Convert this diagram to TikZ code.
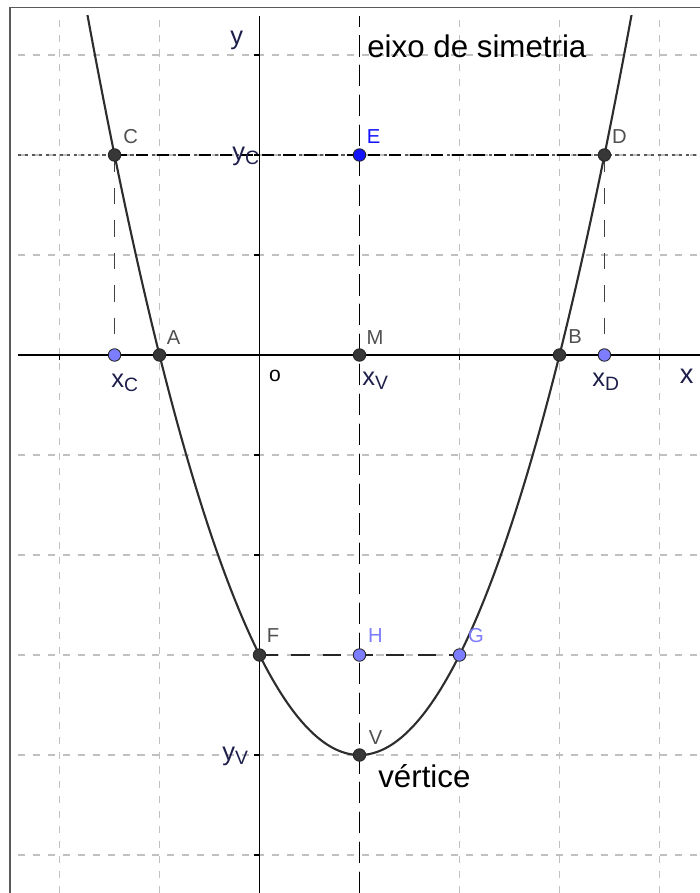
\documentclass[tikz,border=0pt]{standalone}
\usepackage{fontspec}
\setmainfont{Liberation Sans}
\definecolor{gridcol}{RGB}{192,192,192}
\definecolor{framecol}{RGB}{90,90,90}
\definecolor{curvecol}{RGB}{45,45,45}
\definecolor{ptfill}{RGB}{55,55,55}
\definecolor{violetpt}{RGB}{125,125,255}
\definecolor{bluept}{RGB}{20,20,255}
\definecolor{labcol}{RGB}{30,30,75}
\definecolor{ptlabcol}{RGB}{80,80,80}
\newcommand\lsub[2]{#1\raisebox{-2.8pt}{\fontsize{11}{12}\selectfont #2}}
\begin{document}
\begin{tikzpicture}[x=2cm,y=2cm,
  gridline/.style={draw=gridcol, line width=0.6pt, dash pattern=on 4pt off 4.5pt},
  axisline/.style={draw=black, line width=1.1pt},
  curveline/.style={draw=curvecol, line width=1.2pt},
  symline/.style={draw=black, line width=1pt, dash pattern=on 12pt off 5pt},
  dotline/.style={draw=black!65, line width=0.7pt, dash pattern=on 1.8pt off 2.2pt},
  cdline/.style={draw=black, line width=1pt, dash pattern=on 7pt off 5pt},
  vline/.style={draw=black!75, line width=1pt, dash pattern=on 9.5pt off 9pt},
  fgline/.style={draw=black!85, line width=1pt, dash pattern=on 10.5pt off 7.5pt},
  ptbase/.style={circle, inner sep=0pt, minimum size=0.25cm, draw=black!85, line width=0.5pt},
  blackpt/.style={ptbase, fill=ptfill},
  violpt/.style={ptbase, fill=violetpt},
  bluepoint/.style={ptbase, fill=bluept},
  ptlab/.style={inner sep=0pt, text=ptlabcol, font=\fontsize{11.5}{13}\selectfont},
  axlab/.style={inner sep=0pt, anchor=base west, text=labcol, font=\fontsize{14.5}{16}\selectfont},
  bigtext/.style={inner sep=0pt, anchor=base west, text=black, font=\fontsize{17.8}{20}\selectfont}
]
\useasboundingbox (-2.595,-5.38) rectangle (4.405,3.55);
% frame
\draw[framecol, line width=0.9pt] (-2.495,-5.5) -- (-2.495,3.475) -- (4.5,3.475);
\begin{scope}
\clip (-2.415,-5.38) rectangle (4.405,3.39);
% grid
\foreach \i in {-2,...,4} \draw[gridline] (\i,-5.38) -- (\i,3.39);
\foreach \j in {-5,...,3} \draw[gridline] (-2.415,\j) -- (4.405,\j);
% coordinates
\coordinate (C) at (-1.44949,2);
\coordinate (D) at (3.44949,2);
\coordinate (E) at (1,2);
\coordinate (A) at (-1,0);
\coordinate (B) at (3,0);
\coordinate (M) at (1,0);
\coordinate (XC) at (-1.44949,0);
\coordinate (XD) at (3.44949,0);
\coordinate (F) at (0,-3);
\coordinate (H) at (1,-3);
\coordinate (G) at (2,-3);
\coordinate (V) at (1,-4);
\coordinate (Ltop) at (-2.415,2);
\coordinate (Rtop) at (4.405,2);
\coordinate (Stop) at (1,3.39);
\coordinate (Sbot) at (1,-5.38);
% guide lines
\draw[dotline] (Ltop) -- (Rtop);
\draw[cdline] (C) -- (D);
\draw[vline] (C) -- (XC);
\draw[vline] (D) -- (XD);
\draw[fgline] (F) -- (G);
\draw[symline] (Sbot) -- (Stop);
% axes
\draw[axisline] (-2.415,0) -- (4.405,0);
\draw[axisline] (0,-5.38) -- (0,3.39);
\foreach \i in {-2,-1,1,2,3,4} \draw[axisline] (\i,0) -- (\i,-0.05);
\foreach \j in {-5,...,-1,1,2,3} \draw[axisline] (0,\j) -- (-0.05,\j);
% parabola
\draw[curveline] plot[domain=-1.8:3.8, samples=200, smooth] (\x,{\x*\x-2*\x-3});
\end{scope}
% points
\node[blackpt] (pC) at (C) {};
\node[blackpt] (pD) at (D) {};
\node[bluepoint] (pE) at (E) {};
\node[blackpt] (pA) at (A) {};
\node[blackpt] (pB) at (B) {};
\node[blackpt] (pM) at (M) {};
\node[violpt] (pXC) at (XC) {};
\node[violpt] (pXD) at (XD) {};
\node[blackpt] (pF) at (F) {};
\node[violpt] (pH) at (H) {};
\node[violpt] (pG) at (G) {};
\node[blackpt] (pV) at (V) {};
% point labels
\node[ptlab] (lC) at ([shift={(0.16,0.185)}]C) {C};
\node[ptlab] (lD) at ([shift={(0.15,0.185)}]D) {D};
\node[ptlab, text=bluept] (lE) at ([shift={(0.14,0.185)}]E) {E};
\node[ptlab] (lA) at ([shift={(0.14,0.17)}]A) {A};
\node[ptlab] (lB) at ([shift={(0.155,0.18)}]B) {B};
\node[ptlab] (lM) at ([shift={(0.155,0.17)}]M) {M};
\node[ptlab] (lF) at ([shift={(0.135,0.19)}]F) {F};
\node[ptlab, text=violetpt] (lH) at ([shift={(0.16,0.19)}]H) {H};
\node[ptlab, text=violetpt] (lG) at ([shift={(0.165,0.19)}]G) {G};
\node[ptlab] (lV) at ([shift={(0.16,0.17)}]V) {V};
% axis and other labels
\node[axlab] (ly) at (-0.295,3.11) {y};
\node[axlab, font=\fontsize{15.5}{17}\selectfont] (lx) at (4.2,-0.28) {x};
\node[inner sep=0pt, text=black, font=\fontsize{12}{14}\selectfont] (lo) at (0.155,-0.21) {o};
\node[axlab] (lyc) at (-0.275,1.95) {\lsub{y}{C}};
\node[axlab] (lxc) at (-1.485,-0.32) {\lsub{x}{C}};
\node[axlab] (lxv) at (1.025,-0.30) {\lsub{x}{V}};
\node[axlab] (lxd) at (3.325,-0.31) {\lsub{x}{D}};
\node[axlab] (lyv) at (-0.375,-4.05) {\lsub{y}{V}};
\node[bigtext] (eixo) at (1.075,2.97) {eixo de simetria};
\node[bigtext] (vert) at (1.185,-4.32) {vértice};
\end{tikzpicture}
\end{document}
